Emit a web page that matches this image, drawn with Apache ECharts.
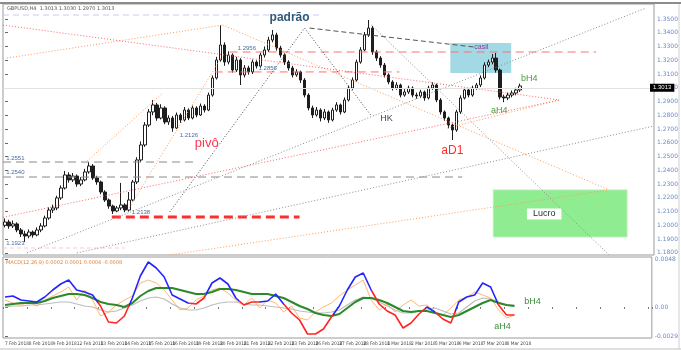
<!DOCTYPE html>
<html><head><meta charset="utf-8">
<script src="https://cdn.jsdelivr.net/npm/echarts@6/dist/echarts.min.js"></script>
<style>html,body{margin:0;padding:0;background:#fff}#c{width:681px;height:350px}</style>
</head><body><div id="c"></div>
<script>
// ---------- DATA ----------
const candleOpen = [
1.2000,1.2024,1.1995,1.2010,1.1966,1.1937,1.1922,1.1951,1.1930,1.1966,
1.1995,1.2053,1.2111,1.2126,1.2199,1.2271,1.2366,1.2330,1.2358,1.2300,
1.2330,1.2388,1.2431,1.2344,1.2315,1.2242,1.2184,1.2140,1.2104,1.2126,
1.2148,1.2111,1.2184,1.2315,1.2475,1.2584,1.2729,1.2824,1.2875,1.2780,
1.2853,1.2751,1.2780,1.2707,1.2802,1.2766,1.2838,1.2780,1.2853,1.2802,
1.2867,1.2838,1.2947,1.3071,1.3202,1.3311,1.3187,1.3238,1.3129,1.3202,
1.3093,1.3144,1.3115,1.3187,1.3158,1.3238,1.3275,1.3347,1.3384,1.3289,
1.3238,1.3187,1.3144,1.3093,1.3115,1.3056,1.2947,1.2853,1.2802,1.2838,
1.2780,1.2824,1.2766,1.2838,1.2875,1.2824,1.2911,1.2998,1.3056,1.3187,
1.3275,1.3384,1.3434,1.3260,1.3216,1.3165,1.3093,1.3042,1.2998,1.3020,
1.2947,1.2969,1.2998,1.2947,1.2940,1.2969,1.2926,1.2998,1.3020,1.2911,
1.2824,1.2780,1.2729,1.2693,1.2824,1.2926,1.2984,1.2947,1.2998,1.3020,
1.3071,1.3165,1.3187,1.3216,1.3129,1.2933,1.2926,1.2947,1.2962,1.2984];
const candleClose = [
1.2024,1.1995,1.2010,1.1966,1.1937,1.1922,1.1951,1.1930,1.1966,1.1995,
1.2053,1.2111,1.2126,1.2199,1.2271,1.2366,1.2330,1.2358,1.2300,1.2330,
1.2388,1.2431,1.2344,1.2315,1.2242,1.2184,1.2140,1.2104,1.2126,1.2148,
1.2111,1.2184,1.2315,1.2475,1.2584,1.2729,1.2824,1.2875,1.2780,1.2853,
1.2751,1.2780,1.2707,1.2802,1.2766,1.2838,1.2780,1.2853,1.2802,1.2867,
1.2838,1.2947,1.3071,1.3202,1.3311,1.3187,1.3238,1.3129,1.3202,1.3093,
1.3144,1.3115,1.3187,1.3158,1.3238,1.3275,1.3347,1.3384,1.3289,1.3238,
1.3187,1.3144,1.3093,1.3115,1.3056,1.2947,1.2853,1.2802,1.2838,1.2780,
1.2824,1.2766,1.2838,1.2875,1.2824,1.2911,1.2998,1.3056,1.3187,1.3275,
1.3384,1.3434,1.3260,1.3216,1.3165,1.3093,1.3042,1.2998,1.3020,1.2947,
1.2969,1.2998,1.2947,1.2940,1.2969,1.2926,1.2998,1.3020,1.2911,1.2824,
1.2780,1.2729,1.2693,1.2824,1.2926,1.2984,1.2947,1.2998,1.3020,1.3071,
1.3165,1.3187,1.3216,1.3129,1.2933,1.2926,1.2947,1.2962,1.2984,1.3013];
const candleLow = [
1.1985,1.1975,1.1980,1.1950,1.1915,1.1879,1.1905,1.1910,1.1920,1.1950,
1.1985,1.2040,1.2090,1.2110,1.2185,1.2260,1.2310,1.2315,1.2280,1.2285,
1.2320,1.2375,1.2330,1.2295,1.2225,1.2170,1.2120,1.2082,1.2095,1.2110,
1.2095,1.2100,1.2175,1.2300,1.2460,1.2570,1.2715,1.2800,1.2760,1.2770,
1.2735,1.2730,1.2680,1.2700,1.2745,1.2755,1.2765,1.2770,1.2785,1.2795,
1.2820,1.2830,1.2935,1.3060,1.3190,1.3160,1.3170,1.3110,1.3115,1.3020,
1.3075,1.3095,1.3100,1.3140,1.3145,1.3220,1.3260,1.3330,1.3270,1.3220,
1.3165,1.3125,1.3075,1.3080,1.3035,1.2930,1.2835,1.2780,1.2790,1.2755,
1.2765,1.2745,1.2755,1.2825,1.2805,1.2815,1.2900,1.2985,1.3045,1.3175,
1.3265,1.3370,1.3240,1.3195,1.3145,1.3075,1.3025,1.2980,1.2985,1.2930,
1.2935,1.2955,1.2930,1.2920,1.2925,1.2905,1.2915,1.2985,1.2895,1.2805,
1.2760,1.2705,1.2620,1.2680,1.2810,1.2915,1.2930,1.2935,1.2985,1.3005,
1.3060,1.3150,1.3170,1.3110,1.2915,1.2895,1.2910,1.2930,1.2945,1.2970];
const candleHigh = [
1.2050,1.2040,1.2035,1.2022,1.1980,1.1960,1.1970,1.1962,1.1985,1.2015,
1.2070,1.2130,1.2150,1.2215,1.2290,1.2395,1.2385,1.2380,1.2370,1.2350,
1.2410,1.2460,1.2445,1.2360,1.2325,1.2255,1.2195,1.2150,1.2140,1.2308,
1.2160,1.2242,1.2330,1.2495,1.2610,1.2750,1.2845,1.2911,1.2890,1.2880,
1.2865,1.2800,1.2795,1.2820,1.2815,1.2860,1.2850,1.2870,1.2865,1.2885,
1.2880,1.2965,1.3090,1.3225,1.3456,1.3330,1.3265,1.3250,1.3225,1.3215,
1.3165,1.3160,1.3205,1.3200,1.3255,1.3300,1.3370,1.3420,1.3400,1.3305,
1.3250,1.3200,1.3160,1.3135,1.3125,1.3070,1.2960,1.2870,1.2860,1.2850,
1.2845,1.2835,1.2855,1.2895,1.2885,1.2930,1.3015,1.3075,1.3205,1.3295,
1.3405,1.3493,1.3450,1.3275,1.3230,1.3180,1.3105,1.3055,1.3040,1.3030,
1.2990,1.3015,1.3010,1.2965,1.2985,1.2980,1.3015,1.3040,1.3030,1.2925,
1.2835,1.2790,1.2740,1.2840,1.2945,1.3000,1.2995,1.3015,1.3035,1.3090,
1.3185,1.3205,1.3245,1.3253,1.3140,1.2950,1.2965,1.2980,1.3000,1.3030];
const priceTicks = [1.18,1.19,1.20,1.21,1.22,1.23,1.24,1.25,1.26,1.27,1.28,1.29,1.30,1.31,1.32,1.33,1.34,1.35];
const lastPrice = 1.3013;
const dateLabels = ["7 Feb 2018","8 Feb 2018","9 Feb 2018","12 Feb 2018","13 Feb 2018","14 Feb 2018","15 Feb 2018","16 Feb 2018","19 Feb 2018","20 Feb 2018","21 Feb 2018","22 Feb 2018","23 Feb 2018","26 Feb 2018","27 Feb 2018","28 Feb 2018","1 Mar 2018","2 Mar 2018","5 Mar 2018","6 Mar 2018","7 Mar 2018","8 Mar 2018"];

// indicator (one sample every 2 bars)
const sampleStep = 2;
const macdMain = [0.0010,0.0011,0.0007,0.0006,0.0005,0.0010,0.0017,0.0023,0.0027,0.0017,
0.0015,0.0012,0.0001,-0.0015,-0.0016,-0.0009,0.0009,0.0031,0.0045,0.0039,
0.0030,0.0012,0.0008,0.0004,0.0003,0.0009,0.0024,0.0029,0.0023,0.0009,
0.0002,0.0005,0.0005,0.0006,0.0013,0.0003,-0.0006,-0.0013,-0.0027,-0.0027,
-0.0022,-0.0010,0.0001,0.0017,0.0030,0.0034,0.0017,0.0003,-0.0004,-0.0008,
-0.0021,-0.0016,-0.0007,0.0000,-0.0005,-0.0012,-0.0016,0.0005,0.0010,0.0012,
0.0024,0.0020,0.0002,-0.0008,-0.0008];
const macdSignal = [0.0002,0.0003,0.0004,0.0004,0.0004,0.0006,0.0009,0.0011,0.0013,0.0013,
0.0012,0.0009,0.0005,0.0003,0.0002,0.0000,0.0004,0.0011,0.0016,0.0019,
0.0019,0.0019,0.0017,0.0015,0.0013,0.0013,0.0015,0.0018,0.0018,0.0017,
0.0015,0.0013,0.0013,0.0013,0.0011,0.0009,0.0005,0.0001,-0.0002,-0.0006,
-0.0008,-0.0009,-0.0007,-0.0001,0.0005,0.0009,0.0009,0.0007,0.0004,0.0000,
-0.0004,-0.0005,-0.0004,-0.0004,-0.0006,-0.0008,-0.0010,-0.0008,-0.0004,0.0000,
0.0004,0.0007,0.0004,0.0002,0.0001];
const macdSlow = [0.0000,0.0001,0.0001,0.0002,0.0002,0.0003,0.0004,0.0005,0.0005,0.0003,
0.0001,0.0000,-0.0003,-0.0005,-0.0004,-0.0001,0.0002,0.0006,0.0009,0.0010,
0.0008,0.0003,-0.0001,-0.0003,-0.0003,-0.0001,0.0002,0.0004,0.0005,0.0005,
0.0003,0.0002,0.0002,0.0001,0.0000,-0.0001,-0.0002,-0.0004,-0.0005,-0.0006,
-0.0006,-0.0005,-0.0003,0.0002,0.0007,0.0010,0.0009,0.0005,0.0001,-0.0003,
-0.0006,-0.0006,-0.0004,-0.0002,-0.0001,-0.0004,-0.0007,-0.0006,0.0000,0.0006,
0.0009,0.0008,0.0005,0.0002,0.0002];
const macdFast = [0.0007,0.0004,0.0002,0.0005,0.0001,0.0007,0.0011,0.0015,0.0020,0.0007,
0.0017,0.0007,-0.0009,-0.0005,0.0002,0.0007,0.0011,0.0024,0.0027,0.0024,
0.0017,0.0007,-0.0003,-0.0001,0.0007,0.0011,0.0017,0.0019,0.0014,0.0007,
0.0002,0.0009,-0.0001,0.0007,0.0004,-0.0005,0.0001,-0.0011,-0.0013,-0.0005,
0.0000,0.0004,0.0011,0.0017,0.0022,0.0027,0.0007,-0.0003,0.0003,-0.0005,
0.0002,0.0007,0.0001,0.0002,-0.0005,-0.0008,-0.0001,0.0007,0.0010,0.0015,
0.0012,0.0009,-0.0003,-0.0011,-0.0008];
const redRanges = [[23.25,31.25],[46.25,50.5],[58.75,63.75],[70,82.5],[92,105.5],[108,113],[123.75,131]];
const indTicks = [0.0048, 0, -0.0029];

// drawn objects in (bar index, price)
const orangeLines = [[0.5,1.3216,54.5,1.3456],[54.5,1.3456,151.25,1.2257],[20,1.2453,39.5,1.2962],[30.75,1.2111,54.25,1.3224],[41.25,1.1784,151.25,1.2257],[110.75,1.2707,138.75,1.2911]];
const redDotLines = [[-0.5,1.3456,138.75,1.2911],[-0.5,1.2058,138.75,1.2911]];
const grayDotLines = [[5.5,1.1799,160.5,1.3580],[18,1.1799,162.5,1.2722],[91.75,1.3456,151.25,1.1784]];
const blackDotLines = [[41.25,1.2097,75,1.3434],[75,1.3434,91.75,1.2795]];
const darkDashLines = [[76.25,1.3434,117.5,1.3296]];
const lavenderLevels = [[1.3529,-0.5,79.5]];
const redLevels = [[1.3260,56.25,148],[1.3115,52.5,98.75]];
const grayLevels = [[1.2460,-0.5,48.25],[1.2351,-0.5,114.5]];
const thickRedLevels = [[1.2060,26.75,73.75]];
const pinkLevels = [[1.1835,-0.5,30]];
const boxes = [[111.5,1.3325,126.75,1.3107],[122.25,1.2257,155.75,1.1915]];
const annoText = ["padrão","pivô","HK","aD1","bH4","aH4","casil","Lucro","1.1923","1.2138","1.2551","1.2540","1.2126","1.2956","1.2856"];
const annoIdx = [71.25,50.5,95.5,112,131.25,123.75,119.25,135,0.3,31.75,0.3,0.3,43.75,58.25,63.5];
const annoPrice = [1.3507,1.2598,1.2780,1.2540,1.3064,1.2838,1.3296,1.2082,1.1871,1.2097,1.2489,1.2388,1.2657,1.3289,1.3144];
const lowAnnoText = ["bH4","aH4"];
const lowAnnoIdx = [132.5,125];
const lowAnnoVal = [0.0005,-0.0020];

// ---------- STYLES ----------
const N_SLOTS = 163;
const smallLbl = {c:'#4a6aa8', f:6, a:'left'};
const annoStyles = [
  {c:'#2f5a7a', f:12, w:'bold'}, {c:'#ff3355', f:13}, {c:'#3a4660', f:9}, {c:'#ff2a2a', f:12},
  {c:'#4a9a40', f:9}, {c:'#4a9a40', f:9}, {c:'#8a3aa0', f:7}, {c:'#1c2a3a', f:9, bg:'#ffffff', pad:[1,6]},
  smallLbl, smallLbl, smallLbl, smallLbl, smallLbl, smallLbl, smallLbl
];
const boxStyles = [{fill:'#a3d9e4'},{fill:'#90ec90', stroke:'#b8f0b8'}];

const emptyCats = Array.from({length:N_SLOTS}, () => '');
const dateCats = emptyCats.map((_, i) => (i % 6 === 0 && dateLabels[i / 6]) ? dateLabels[i / 6] : '');

function segSeries(list, style) {
  return list.map(s => ({type:'line', xAxisIndex:1, yAxisIndex:0, data:[[s[0], s[1]], [s[2], s[3]]],
    symbol:'none', silent:true, z:3, lineStyle:style}));
}
function levelSeries(list, style) {
  return list.map(l => ({type:'line', xAxisIndex:1, yAxisIndex:0, data:[[l[1], l[0]], [l[2], l[0]]],
    symbol:'none', silent:true, z:3, lineStyle:style}));
}
function indSeries(vals, style, z) {
  return {type:'line', xAxisIndex:3, yAxisIndex:1, data: vals.map((v, k) => [k * sampleStep, v]),
    symbol:'none', silent:true, z:z, lineStyle:style};
}

const series = [];
series.push({type:'custom', xAxisIndex:1, yAxisIndex:0, z:1, silent:true, data: boxes,
  renderItem: (params, api) => {
    const a = api.coord([api.value(0), api.value(1)]);
    const b = api.coord([api.value(2), api.value(3)]);
    const s = boxStyles[params.dataIndex];
    return {type:'rect', shape:{x:Math.min(a[0], b[0]), y:Math.min(a[1], b[1]), width:Math.abs(b[0] - a[0]), height:Math.abs(b[1] - a[1])},
      style:{fill:s.fill, stroke:s.stroke || null, lineWidth:1}};
  }});
series.push({type:'candlestick', xAxisIndex:0, yAxisIndex:0, z:2, barWidth:3,
  data: candleOpen.map((o, i) => [o, candleClose[i], candleLow[i], candleHigh[i]]),
  itemStyle:{color:'#ffffff', color0:'#1e1e1e', borderColor:'#1e1e1e', borderColor0:'#1e1e1e', borderWidth:1},
  markLine:{silent:true, symbol:'none', data:[{yAxis:lastPrice}],
    lineStyle:{color:'#e2e2e2', type:'solid', width:1},
    label:{position:'end', formatter: lastPrice.toFixed(4), backgroundColor:'#000', color:'#fff', fontSize:6, padding:[1,3], distance:-4}}});
series.push(...levelSeries(lavenderLevels, {color:'#c8c8f4', width:1, type:[6,4]}));
series.push(...levelSeries(pinkLevels, {color:'#ffc8c8', width:1, type:[4,3]}));
series.push(...levelSeries(grayLevels, {color:'#8a8a8a', width:1, type:[8,5]}));
series.push(...levelSeries(redLevels, {color:'#ff7070', width:1, type:[8,5]}));
series.push(...levelSeries(thickRedLevels, {color:'#ff2e2e', width:3, type:[9,5]}));
series.push(...segSeries(orangeLines, {color:'#ff9a55', width:1, type:[1,2]}));
series.push(...segSeries(redDotLines, {color:'#ff6666', width:1, type:[1,2]}));
series.push(...segSeries(grayDotLines, {color:'#8c8c8c', width:1, type:[1,2]}));
series.push(...segSeries(blackDotLines, {color:'#444444', width:1, type:[1,2]}));
series.push(...segSeries(darkDashLines, {color:'#555555', width:1, type:[5,3]}));
series.push({type:'custom', xAxisIndex:1, yAxisIndex:0, z:6, silent:true,
  data: annoIdx.map((x, i) => [x, annoPrice[i]]),
  renderItem: (params, api) => {
    const p = api.coord([api.value(0), api.value(1)]);
    const s = annoStyles[params.dataIndex];
    return {type:'text', x:p[0], y:p[1], style:{text:annoText[params.dataIndex], fill:s.c, fontSize:s.f, fontWeight:s.w || 'normal',
      fontFamily:'Liberation Sans, Arial, sans-serif', align:s.a || 'center', verticalAlign:'middle',
      backgroundColor:s.bg || null, padding:s.pad || 0}};
  }});
// lower panel
series.push(indSeries(macdSlow, {color:'#bdbdbd', width:1.2}, 2));
series.push(indSeries(macdFast, {color:'#ffa64d', width:0.9, opacity:0.9}, 3));
series.push(indSeries(macdSignal, {color:'#2a8a2a', width:2}, 4));
const macdIndex = series.length;
series.push(indSeries(macdMain, {width:1.6}, 5));
series.push({type:'custom', xAxisIndex:3, yAxisIndex:1, z:6, silent:true,
  data: lowAnnoIdx.map((x, i) => [x, lowAnnoVal[i]]),
  renderItem: (params, api) => {
    const p = api.coord([api.value(0), api.value(1)]);
    return {type:'text', x:p[0], y:p[1], style:{text:lowAnnoText[params.dataIndex], fill:'#3c8a3c', fontSize:9,
      fontFamily:'Liberation Sans, Arial, sans-serif', align:'center', verticalAlign:'middle'}};
  }});

const option = {
  animation:false,
  backgroundColor:'#ffffff',
  grid:[
    {left:3, top:4, width:653, height:251, show:true, borderColor:'#9a9a9a', borderWidth:1, backgroundColor:'#fff'},
    {left:3, top:257, width:653, height:81, show:true, borderColor:'#9a9a9a', borderWidth:1, backgroundColor:'#fff'}
  ],
  xAxis:[
    {type:'category', gridIndex:0, data:emptyCats, show:false, boundaryGap:true},
    {type:'value', gridIndex:0, min:-0.5, max:N_SLOTS - 0.5, show:false},
    {type:'category', gridIndex:1, data:dateCats, boundaryGap:true, position:'bottom',
      axisLine:{show:false}, splitLine:{show:false},
      axisTick:{show:true, interval:5, length:2, lineStyle:{color:'#777'}},
      axisLabel:{interval:5, showMinLabel:true, hideOverlap:false, fontSize:4.8, color:'#444', align:'left', margin:3, fontFamily:'DejaVu Sans Condensed, DejaVu Sans'}},
    {type:'value', gridIndex:1, min:-0.5, max:N_SLOTS - 0.5, show:false}
  ],
  yAxis:[
    {type:'value', gridIndex:0, position:'right', min:1.1784, max:1.3609,
      splitLine:{show:false}, axisLine:{show:false},
      axisTick:{show:true, customValues:priceTicks, length:3, lineStyle:{color:'#666'}},
      axisLabel:{customValues:priceTicks, formatter: v => v.toFixed(4), fontSize:6, color:'#6a8cc4', margin:3, fontFamily:'DejaVu Sans'}},
    {type:'value', gridIndex:1, position:'right', min:-0.0031, max:0.0050,
      splitLine:{show:false}, axisLine:{show:false},
      axisTick:{show:true, customValues:indTicks, length:3, lineStyle:{color:'#666'}},
      axisLabel:{customValues:indTicks, formatter: v => v === 0 ? '0.00' : v.toFixed(4), fontSize:6, color:'#6a8cc4', margin:3, fontFamily:'DejaVu Sans'}}
  ],
  visualMap:[{type:'piecewise', show:false, seriesIndex:macdIndex, dimension:0,
    pieces: redRanges.map(r => ({gt:r[0], lte:r[1], color:'#ff2424'})),
    outOfRange:{color:'#2424ff'}}],
  graphic:[
    {type:'rect', shape:{x:0, y:2, width:681, height:2}, style:{fill:'#8c8c8c'}, z:10},
    {type:'line', shape:{x1:0, y1:349, x2:681, y2:349}, style:{stroke:'#c0c0c0', lineWidth:1}},
    {type:'line', shape:{x1:679, y1:4, x2:679, y2:349}, style:{stroke:'#d0d0d0', lineWidth:1}},
    {type:'text', x:7, y:6, style:{text:'GBPUSD,H4  1.3013 1.3030 1.2970 1.3013', fill:'#555', fontSize:5, fontFamily:'DejaVu Sans'}, z:10},
    {type:'text', x:6, y:260, style:{text:'MACD(12,26,9) 0.0002 0.0001 0.0004 -0.0008', fill:'#e0843c', fontSize:5, fontFamily:'DejaVu Sans'}, z:10}
  ],
  series: series
};
const chart = echarts.init(document.getElementById('c'), null, {renderer:'canvas'});
chart.setOption(option);
</script>
</body></html>
